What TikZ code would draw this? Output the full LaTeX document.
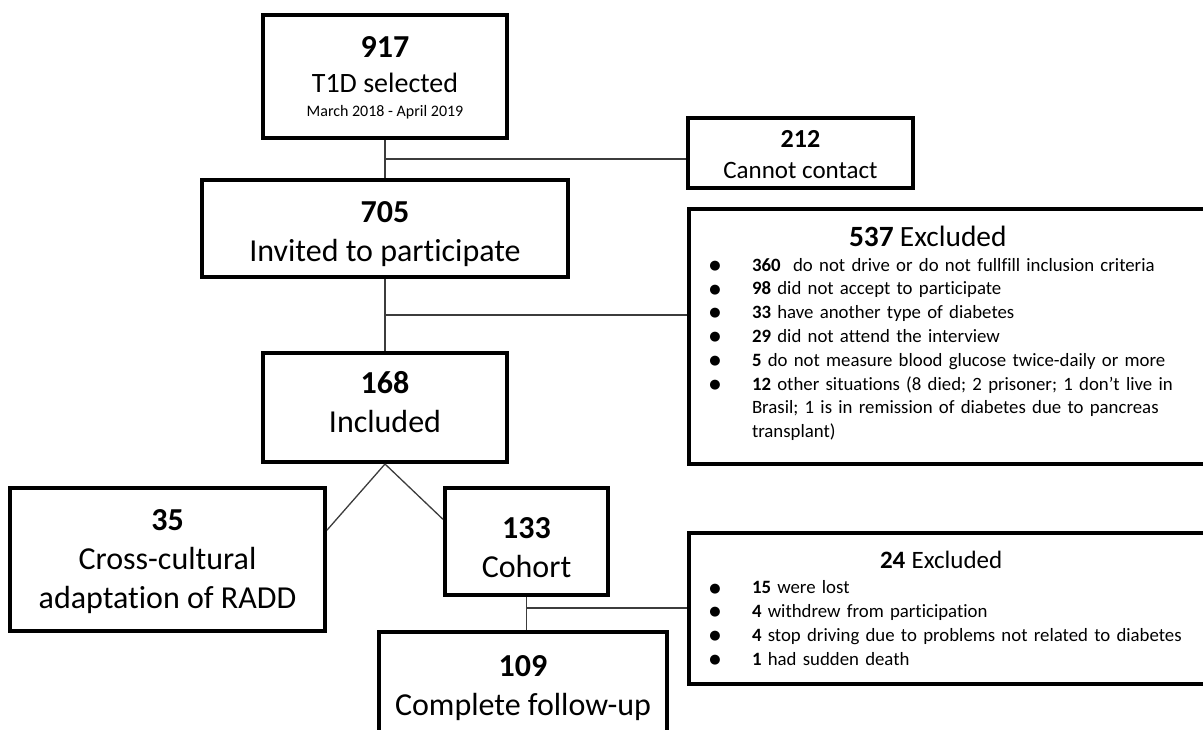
\documentclass[tikz,border=0pt]{standalone}
\usepackage{fontspec}
\setmainfont{Carlito}[Ligatures=NoCommon]
\newfontfamily\listfont{Carlito}[Ligatures=NoCommon, WordSpace=0.6]
\newfontfamily\symfont{DejaVu Sans}
\usetikzlibrary{calc}

\newcommand{\bul}{\makebox[26pt]{\symfont\fontsize{6.5}{0}\selectfont\raisebox{0.9pt}{●}}\hspace{5.5pt}}

\begin{document}
\begin{tikzpicture}[x=0.5pt, y=-0.5pt,
    mybox/.style={draw, line width=2pt, inner sep=0pt, align=center,
        font=\fontsize{16}{19.5}\selectfont},
    mylist/.style={draw, line width=2pt, inner sep=0pt, anchor=north west,
        text width=266.5pt, align=left, font=\listfont\fontsize{9.4}{11.9}\selectfont},
    mylink/.style={draw=mylinkc, line width=0.65pt}]
    \definecolor{mylinkc}{RGB}{60,60,60}

    \useasboundingbox (0,0) rectangle (1203,729);

    \node[mybox, minimum width=122pt, minimum height=61.5pt] (sel) at (385,76.5)
        {\rule{0pt}{11.8pt}\textbf{917}\\[-2pt]
         {\fontsize{14}{16}\selectfont T1D selected}\\[-7.5pt]
         {\fontsize{8}{9.6}\selectfont March 2018 - April 2019}};
    \node[mybox, minimum width=112.5pt, minimum height=35pt,
        font=\fontsize{12.5}{15.5}\selectfont] (nocon) at (800.5,153)
        {{\fontsize{13}{15.5}\selectfont\rule{0pt}{10.5pt}\textbf{212}}\\Cannot contact};
    \node[mybox, minimum width=183pt, minimum height=48.5pt] (inv) at (385,228.5)
        {\rule{0pt}{16.1pt}\textbf{705}\\Invited to participate};
    \node[mylist, minimum height=127.5pt] (excl1) at (687,207)
        {\hspace*{80pt}{\fontsize{14.7}{16}\selectfont\textbf{537} Excluded}\\[0.3pt]
         \bul\textbf{360}\ \ do not drive or do not fullfill inclusion criteria\\
         \bul\textbf{98} did not accept to participate\\
         \bul\textbf{33} have another type of diabetes\\
         \bul\textbf{29} did not attend the interview\\
         \bul\textbf{5} do not measure blood glucose twice-daily or more\\
         \bul\textbf{12} other situations (8 died; 2 prisoner; 1 don’t live in\\
         \hspace*{31.5pt}Brasil; 1 is in remission of diabetes due to pancreas\\
         \hspace*{31.5pt}transplant)\rule[-4.5pt]{0pt}{0pt}};
    \node[mybox, minimum width=122pt, minimum height=54.5pt] (incl) at (385,407.5)
        {\textbf{168}\\Included\rule[-5.5pt]{0pt}{0pt}};
    \node[mybox, minimum width=157.5pt, minimum height=71.5pt] (adapt) at (167.5,559.5)
        {\rule{0pt}{12.6pt}\textbf{35}\\Cross-cultural\\adaptation of RADD};
    \node[mybox, minimum width=81.5pt, minimum height=53.5pt] (coh) at (526.5,541.5)
        {\rule{0pt}{17pt}\textbf{133}\\Cohort};
    \node[mylist, minimum height=75.5pt] (excl2) at (687,531)
        {\hspace*{95.5pt}{\fontsize{12.5}{15}\selectfont\textbf{24} Excluded}\\[0.6pt]
         \bul\textbf{15} were lost\\
         \bul\textbf{4} withdrew from participation\\
         \bul\textbf{4} stop driving due to problems not related to diabetes\\
         \bul\textbf{1} had sudden death};
    \node[mybox, minimum width=144pt, minimum height=56pt] (fup) at (523,688)
        {\textbf{109}\\Complete follow-up};

    \coordinate (j1) at ($(sel.south)!0.5!(inv.north)$);
    \coordinate (j2) at ($(inv.south)!0.5!(incl.north)$);
    \coordinate (j3) at ($(coh.south)!0.33!(coh.south |- fup.north)$);

    \draw[mylink] (sel.south) -- (inv.north);
    \draw[mylink] (j1) -- (j1 -| nocon.west);
    \draw[mylink] (inv.south) -- (incl.north);
    \draw[mylink] (j2) -- (j2 -| excl1.west);
    \draw[mylink] (incl.south) -- ($(adapt.north east)!0.3!(adapt.south east)$);
    \draw[mylink] (incl.south) -- ($(coh.north west)!0.3!(coh.south west)$);
    \draw[mylink] (coh.south) -- (coh.south |- fup.north);
    \draw[mylink] (j3) -- (j3 -| excl2.west);
\end{tikzpicture}
\end{document}
